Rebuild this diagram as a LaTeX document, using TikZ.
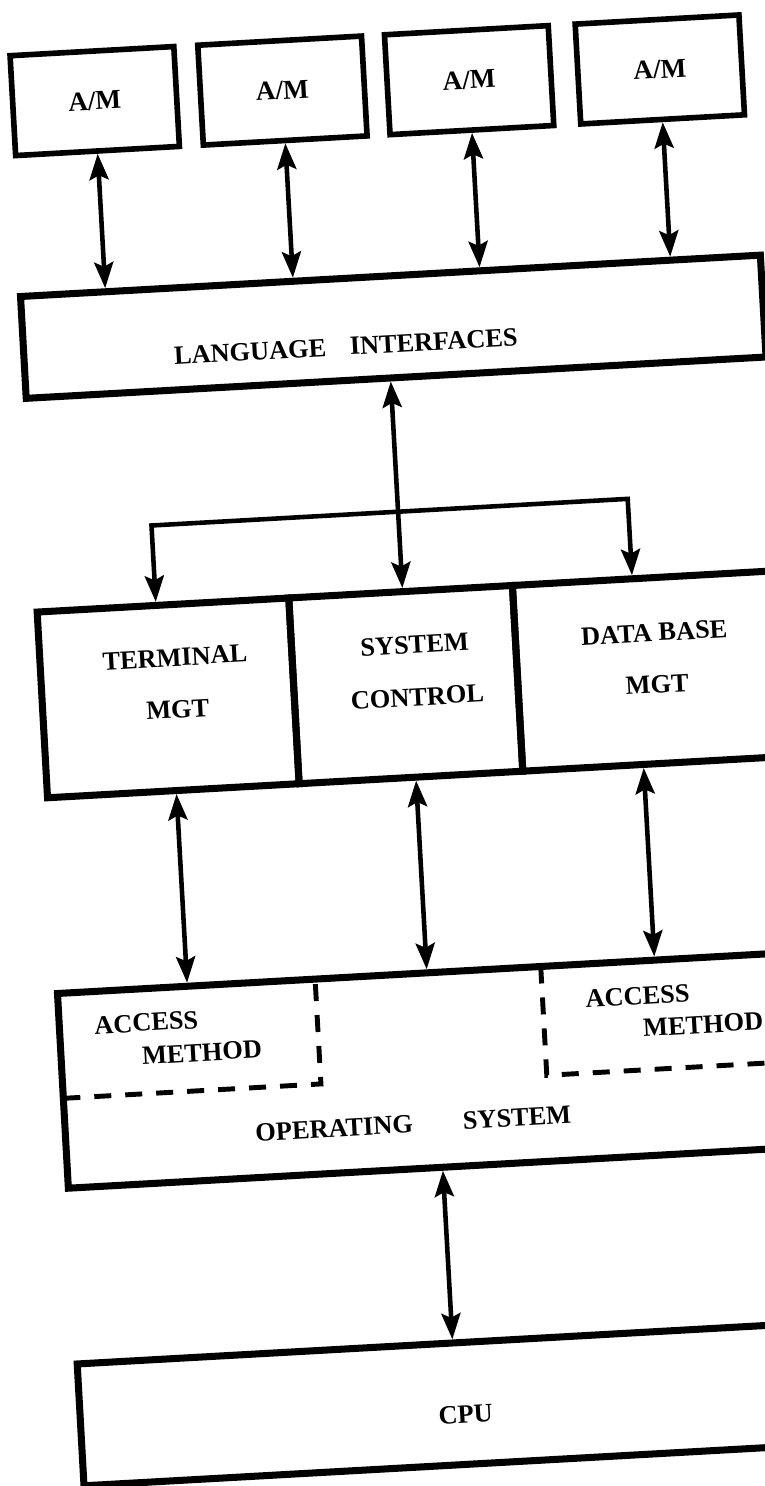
\documentclass[tikz,border=0pt]{standalone}
\usepackage{fontspec}
\setmainfont{Liberation Serif}
\usetikzlibrary{arrows.meta,calc}

\begin{document}
\begin{tikzpicture}[
    box/.style={draw=black,line width=4pt,inner sep=0pt},
    ambox/.style={box,line width=3.2pt,minimum width=3.28cm,minimum height=2.0cm,font=\bfseries\fontsize{15.5}{18}\selectfont},
    lbl/.style={font=\bfseries\fontsize{15}{29.6}\selectfont,align=center,inner sep=0pt},
    dbl/.style={line width=2.6pt,{Stealth[length=5.2mm,width=3.8mm,inset=0.9mm]}-{Stealth[length=5.2mm,width=3.8mm,inset=0.9mm]}},
    dsh/.style={line width=2.8pt,dash pattern=on 0.34cm off 0.28cm}
  ]
  \useasboundingbox (0,0) rectangle (15.3,-29.72);
  \clip (0,0) rectangle (15.3,-29.72);
  \begin{scope}[rotate around={3.2:(7.64,-14.86)},transform shape]
    % language layer and the four A/M
    \node[box,minimum width=14.82cm,minimum height=2.04cm] (lang) at (8.33,-6.56) {};
    \node[lbl] (langtxt) at (7.36,-6.9) {LANGUAGE\hspace{0.9em}INTERFACES};
    \foreach \cx [count=\i] in {2.62,6.38,10.12,13.94}{
      \node[ambox] (am\i) at (\cx,-1.72) {A/M};
      \draw[dbl] (am\i.south) -- ($(lang.north west)!(am\i.south)!(lang.north east)$);
    }

    % managers
    \node[box,minimum width=5.04cm,minimum height=3.72cm] (term) at (3.42,-13.72) {};
    \node[box,minimum width=4.48cm,minimum height=3.72cm] (sys) at (8.18,-13.72) {};
    \node[box,minimum width=6.18cm,minimum height=3.72cm] (db) at (13.51,-13.72) {};
    \node[lbl] (termtxt) at (3.6,-13.44) {TERMINAL\\MGT};
    \node[lbl] (systxt) at (8.4,-13.46) {SYSTEM\\CONTROL};
    \node[lbl] (dbtxt) at (13.2,-13.48) {DATA BASE\\MGT};

    \coordinate (brL) at (3.28,-10.26);
    \coordinate (brM) at (8.22,-10.26);
    \coordinate (brR) at (12.82,-10.26);
    \draw[dbl] ($(term.north west)!(brL)!(term.north east)$) -- (brL) -- (brR)
      -- ($(db.north west)!(brR)!(db.north east)$);
    \draw[dbl] ($(lang.south west)!(brM)!(lang.south east)$)
      -- ($(sys.north west)!(brM)!(sys.north east)$);

    % operating system
    \node[box,minimum width=15.72cm,minimum height=3.9cm] (os) at (8.74,-21.45) {};
    \draw[dsh] (0.88,-21.6) -- (6.04,-21.6) -- (6.04,-19.5);
    \draw[dsh] (10.56,-19.5) -- (10.56,-21.68) -- (16.6,-21.68);
    \node[lbl] (acc1) at (2.62,-20.18) {ACCESS};
    \node[lbl] (meth1) at (3.7,-20.84) {METHOD};
    \node[lbl] (acc2) at (12.46,-20.2) {ACCESS};
    \node[lbl] (meth2) at (13.74,-20.84) {METHOD};
    \node[lbl] (ostxt) at (7.84,-22.5) {OPERATING\hspace{1.9em}SYSTEM};

    \foreach \ax/\nm in {3.48/term,8.28/sys,12.84/db}{
      \coordinate (b\nm) at (\ax,-17.5);
      \draw[dbl] ($(\nm.south west)!(b\nm)!(\nm.south east)$)
        -- ($(os.north west)!(b\nm)!(os.north east)$);
    }

    % cpu
    \node[box,minimum width=15.74cm,minimum height=2.44cm] (cpu) at (8.73,-28.14) {};
    \node[lbl] (cputxt) at (8.56,-28.36) {CPU};
    \coordinate (oc) at (8.38,-25.1);
    \draw[dbl] ($(os.south west)!(oc)!(os.south east)$)
      -- ($(cpu.north west)!(oc)!(cpu.north east)$);
  \end{scope}
\end{tikzpicture}
\end{document}
